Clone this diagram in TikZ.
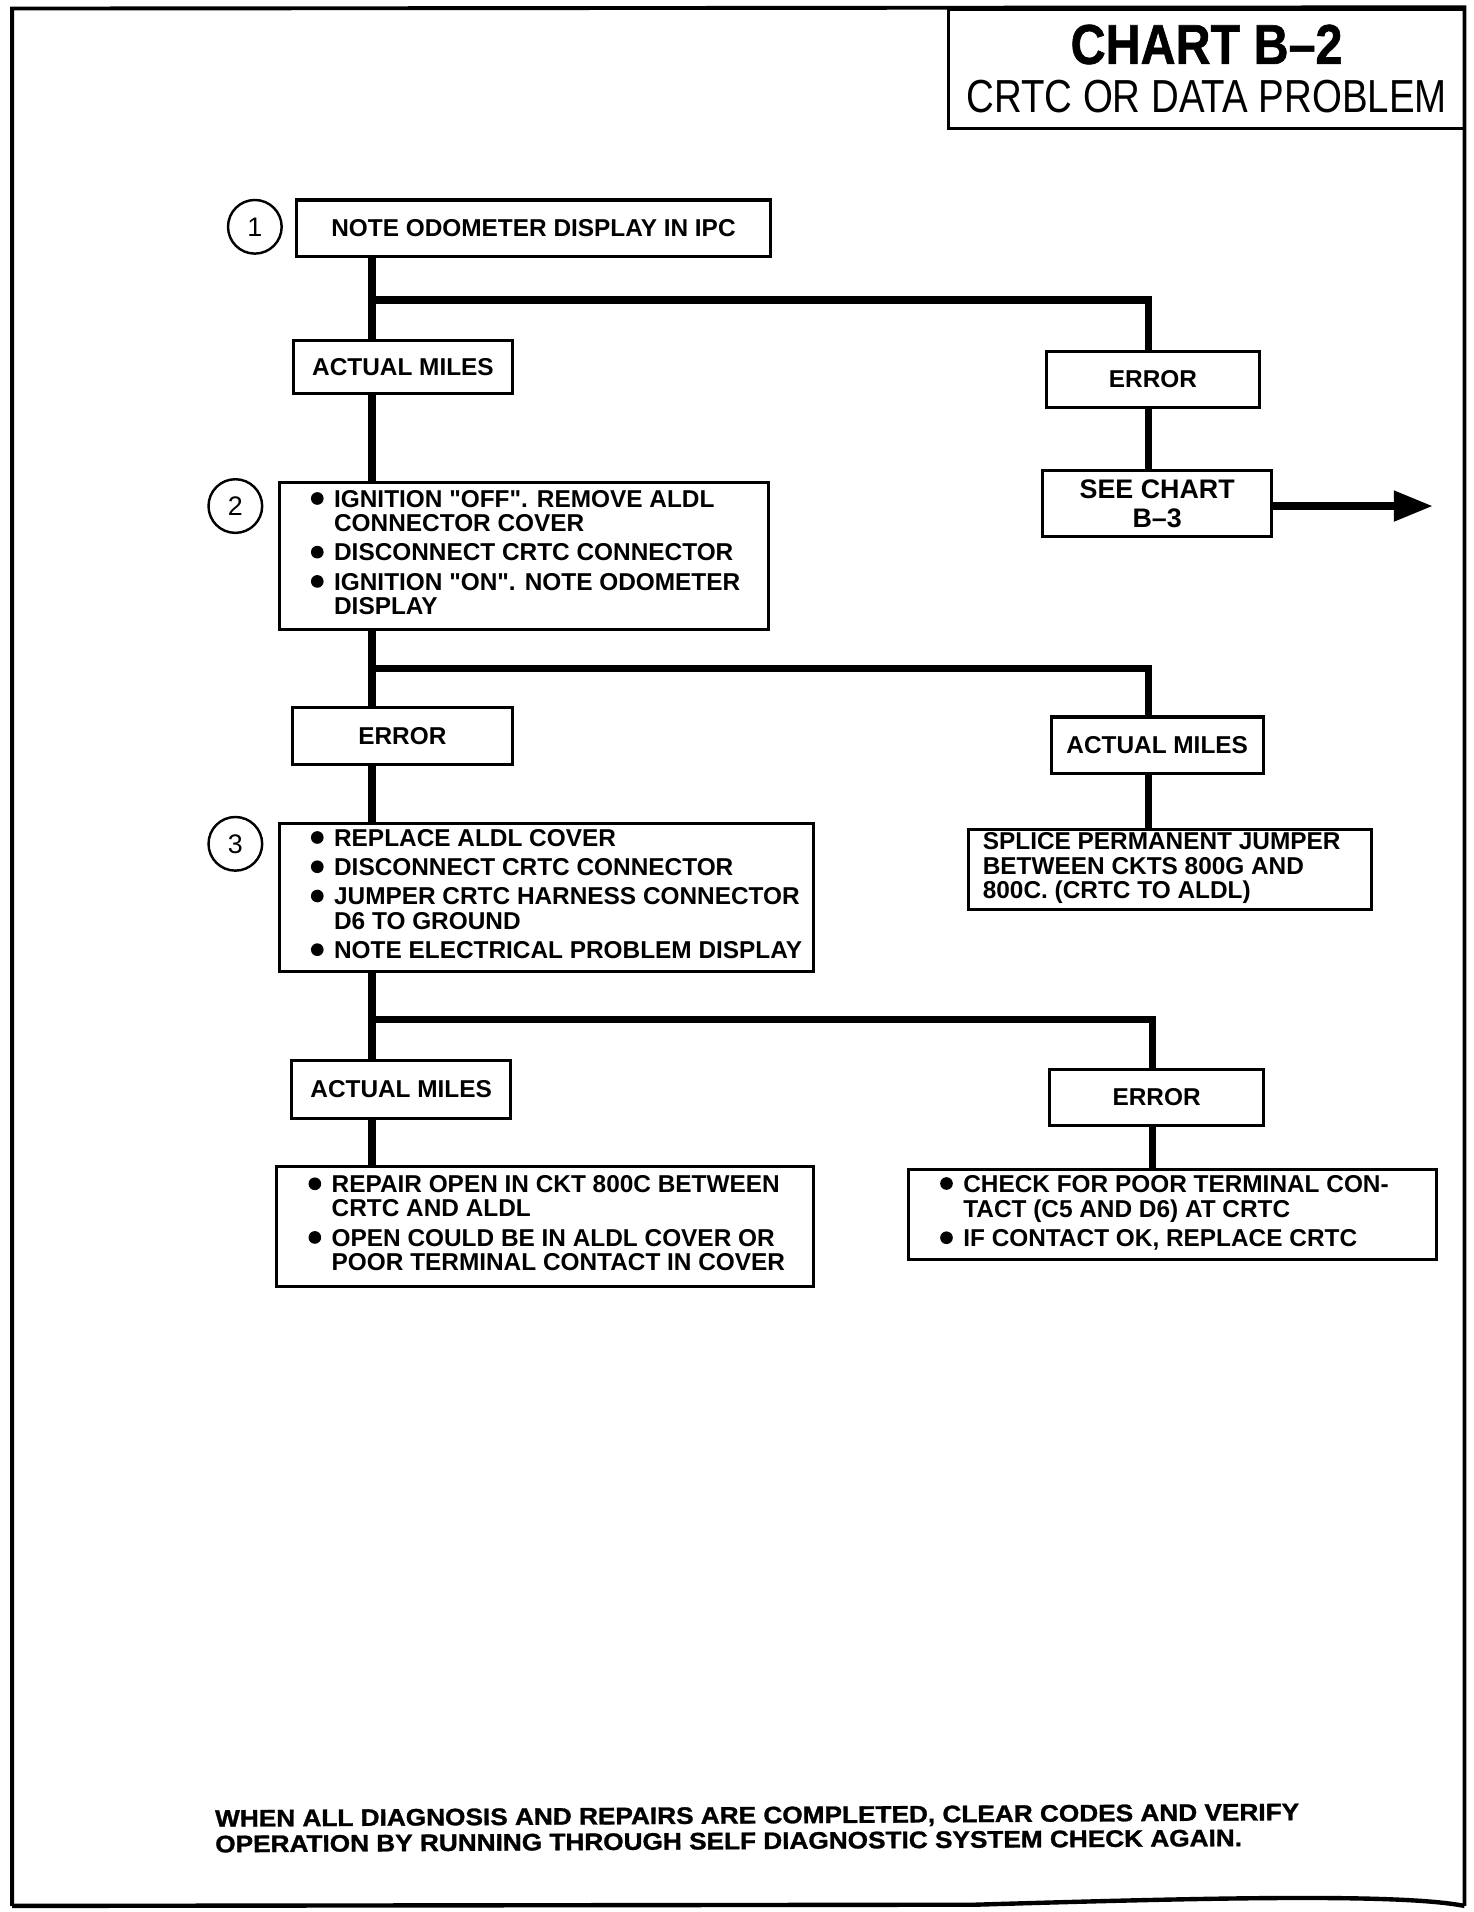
\documentclass[tikz,border=0pt]{standalone}
\usepackage{fontspec}
\usepackage{graphicx}
\setmainfont{Liberation Sans}
\newfontfamily\heavyfont{Liberation Sans}[FakeBold=1.2]
\newfontfamily\rawfont{Liberation Sans}
\usetikzlibrary{arrows.meta}
\newcommand{\bl}{\makebox[9.5pt][l]{\tikz[baseline=0pt]{\fill (2.6pt,3.6pt) circle (2.6pt);}}}
\newcommand{\dq}{{\rawfont\bfseries"}}
\tikzset{
  box/.style={draw, line width=1.25pt, inner sep=0pt, fill=white, font=\fontsize{10}{10}\selectfont\bfseries},
  conn/.style={line width=3pt},
  num/.style={circle, draw, line width=1pt, minimum size=22pt, inner sep=0pt, font=\fontsize{11}{11}\selectfont},
}
\begin{document}
\begin{tikzpicture}[x=0.5pt, y=-0.5pt]
\useasboundingbox (0,0) rectangle (1208,1568);
% frame
\draw[line width=1.6pt] (10,1563) -- (10,7) -- (1201,6) -- (1201,1563);
\draw[line width=1.8pt] (10,1563) -- (800,1562) .. controls (1000,1556) and (1150,1553) .. (1201,1563);
% title
\node[draw, line width=1.25pt, minimum width=211.5pt, minimum height=48.5pt, inner sep=0pt, align=center, font=\fontsize{19}{20}\selectfont] (title) at (989.5,56.5)
  {\resizebox{111.5pt}{\height}{\heavyfont\bfseries\fontsize{23}{23}\selectfont CHART B–2}\\
   \resizebox{197pt}{\height}{CRTC OR DATA PROBLEM}};
% step numbers
\node[num] (c1) at (209,186) {1};
\node[num] (c2) at (193,415) {2};
\node[num] (c3) at (193,692) {3};
% boxes
\node[box, minimum width=194.5pt, minimum height=23pt] (n1) at (437.5,187) {NOTE ODOMETER DISPLAY IN IPC};
\node[box, minimum width=89.5pt, minimum height=22pt] (am1) at (330.5,301) {ACTUAL MILES};
\node[box, minimum width=87.5pt, minimum height=23pt] (err1) at (945.5,311) {ERROR};
\node[box, minimum width=94pt, minimum height=27pt, align=center, font=\fontsize{11}{12}\selectfont\bfseries] (see) at (949,413) {SEE CHART\\B--3};
\node[box, minimum width=200.5pt, minimum height=60pt] (n2) at (429.5,456)
 {\makebox[174.5pt][l]{\begin{tabular}{@{}l@{}l@{}}
 \bl & IGNITION \dq OFF\dq . REMOVE ALDL\\
     & CONNECTOR COVER\\[2pt]
 \bl & DISCONNECT CRTC CONNECTOR\\[2pt]
 \bl & IGNITION \dq ON\dq . NOTE ODOMETER\\
     & DISPLAY
 \end{tabular}}};
\node[box, minimum width=90pt, minimum height=23.5pt] (err2) at (330,603.5) {ERROR};
\node[box, minimum width=87pt, minimum height=23pt] (am2) at (949,611) {ACTUAL MILES};
\node[box, minimum width=165.5pt, minimum height=33pt] (spl) at (959.5,713)
 {\makebox[153.5pt][l]{\begin{tabular}{@{}l@{}}
 SPLICE PERMANENT JUMPER\\
 BETWEEN CKTS 800G AND\\
 800C. (CRTC TO ALDL)
 \end{tabular}}};
\node[box, minimum width=219pt, minimum height=61pt] (n3) at (448,736)
 {\makebox[193pt][l]{\begin{tabular}{@{}l@{}l@{}}
 \bl & REPLACE ALDL COVER\\[2pt]
 \bl & DISCONNECT CRTC CONNECTOR\\[2pt]
 \bl & JUMPER CRTC HARNESS CONNECTOR\\
     & D6 TO GROUND\\[2pt]
 \bl & NOTE ELECTRICAL PROBLEM DISPLAY
 \end{tabular}}};
\node[box, minimum width=90pt, minimum height=23.5pt] (am3) at (329,893.5) {ACTUAL MILES};
\node[box, minimum width=87.5pt, minimum height=23pt] (err3) at (948.5,900) {ERROR};
\node[box, minimum width=220pt, minimum height=49pt] (n4) at (447,1006)
 {\makebox[194pt][l]{\begin{tabular}{@{}l@{}l@{}}
 \bl & REPAIR OPEN IN CKT 800C BETWEEN\\
     & CRTC AND ALDL\\[2pt]
 \bl & OPEN COULD BE IN ALDL COVER OR\\
     & POOR TERMINAL CONTACT IN COVER
 \end{tabular}}};
\node[box, minimum width=216.5pt, minimum height=37pt] (n5) at (961.5,996)
 {\makebox[190.5pt][l]{\begin{tabular}{@{}l@{}l@{}}
 \bl & CHECK FOR POOR TERMINAL CON-\\
     & TACT (C5 AND D6) AT CRTC\\[2pt]
 \bl & IF CONTACT OK, REPLACE CRTC
 \end{tabular}}};
% footer
\node[anchor=north west, rotate=0.35, inner sep=0pt, align=left, font=\heavyfont\bfseries\fontsize{9.8}{10.5}\selectfont] (foot) at (176,1484)
 {\resizebox{444.5pt}{\height}{WHEN ALL DIAGNOSIS AND REPAIRS ARE COMPLETED, CLEAR CODES AND VERIFY}\\
  \resizebox{421pt}{\height}{OPERATION BY RUNNING THROUGH SELF DIAGNOSTIC SYSTEM CHECK AGAIN.}};
% connector helpers
\coordinate (sp) at (305,0);
\coordinate (r1) at (942,0);
\coordinate (r2) at (945,0);
\coordinate (j1) at (305,246);
\coordinate (j2) at (305,548);
\coordinate (j3) at (305,836);
\coordinate (b3) at (1175,415);
% connectors
\draw[conn] (n1.south -| sp) -- (am1.north -| sp);
\draw[conn] (j1) -| (err1.north -| r1);
\draw[conn] (err1.south -| r1) -- (see.north -| r1);
\draw[conn, -{Triangle[length=16pt,width=12pt]}] (see.east |- b3) -- (b3);
\draw[conn] (am1.south -| sp) -- (n2.north -| sp);
\draw[conn] (n2.south -| sp) -- (err2.north -| sp);
\draw[conn] (j2) -| (am2.north -| r1);
\draw[conn] (am2.south -| r1) -- (spl.north -| r1);
\draw[conn] (err2.south -| sp) -- (n3.north -| sp);
\draw[conn] (n3.south -| sp) -- (am3.north -| sp);
\draw[conn] (j3) -| (err3.north -| r2);
\draw[conn] (am3.south -| sp) -- (n4.north -| sp);
\draw[conn] (err3.south -| r2) -- (n5.north -| r2);
\end{tikzpicture}
\end{document}
